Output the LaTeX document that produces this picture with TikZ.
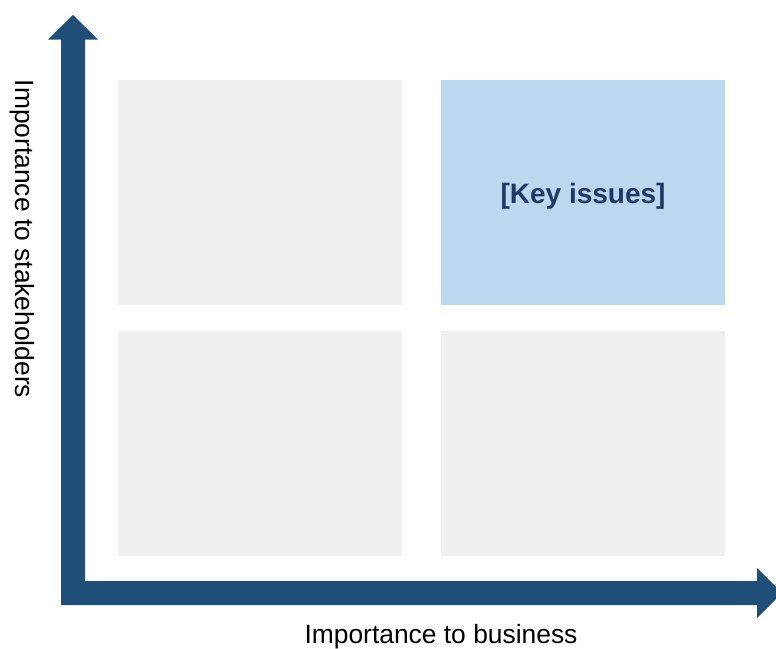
\documentclass[tikz,border=0pt]{standalone}
\usepackage{fontspec}
\setmainfont{Liberation Sans}
\usepackage{xcolor}
\usetikzlibrary{positioning}
\definecolor{axisblue}{HTML}{1F4E79}
\definecolor{cellgray}{HTML}{F0F0F0}
\definecolor{keyblue}{HTML}{BDD7EE}
\definecolor{keytext}{HTML}{1F3864}

\begin{document}
\begin{tikzpicture}[x=1pt,y=-1pt,
  cell/.style={fill=cellgray,minimum width=284pt,minimum height=225pt,inner sep=0pt},
  axislabel/.style={font=\fontsize{26.4}{28}\selectfont,inner sep=0pt}]
\useasboundingbox(0,0)rectangle(776,648);
% the four quadrants
\node[cell,anchor=north west](hilo)at(118,80){};
\node[cell,fill=keyblue,right=38.5pt of hilo](hihi){};
\node[cell,below=25pt of hilo](lolo){};
\node[cell,below=25pt of hihi](lohi){};
\node[font=\fontsize{28}{30}\selectfont\bfseries,text=keytext](key)at([yshift=-4pt]hihi.center){[Key issues]};
% block arrows for the axes
\fill[axisblue](61,605)--(61,39.5)--(48,39.5)--(73,15)--(98,39.5)--(85,39.5)--(85,581)
--(757,581)--(757,568)--(782,593)--(757,618)--(757,605)--cycle;
\node[axislabel,rotate=-90](ylabel)at(22,239){Importance to stakeholders};
\node[axislabel](xlabel)at(441,637){Importance to business};
\end{tikzpicture}
\end{document}
